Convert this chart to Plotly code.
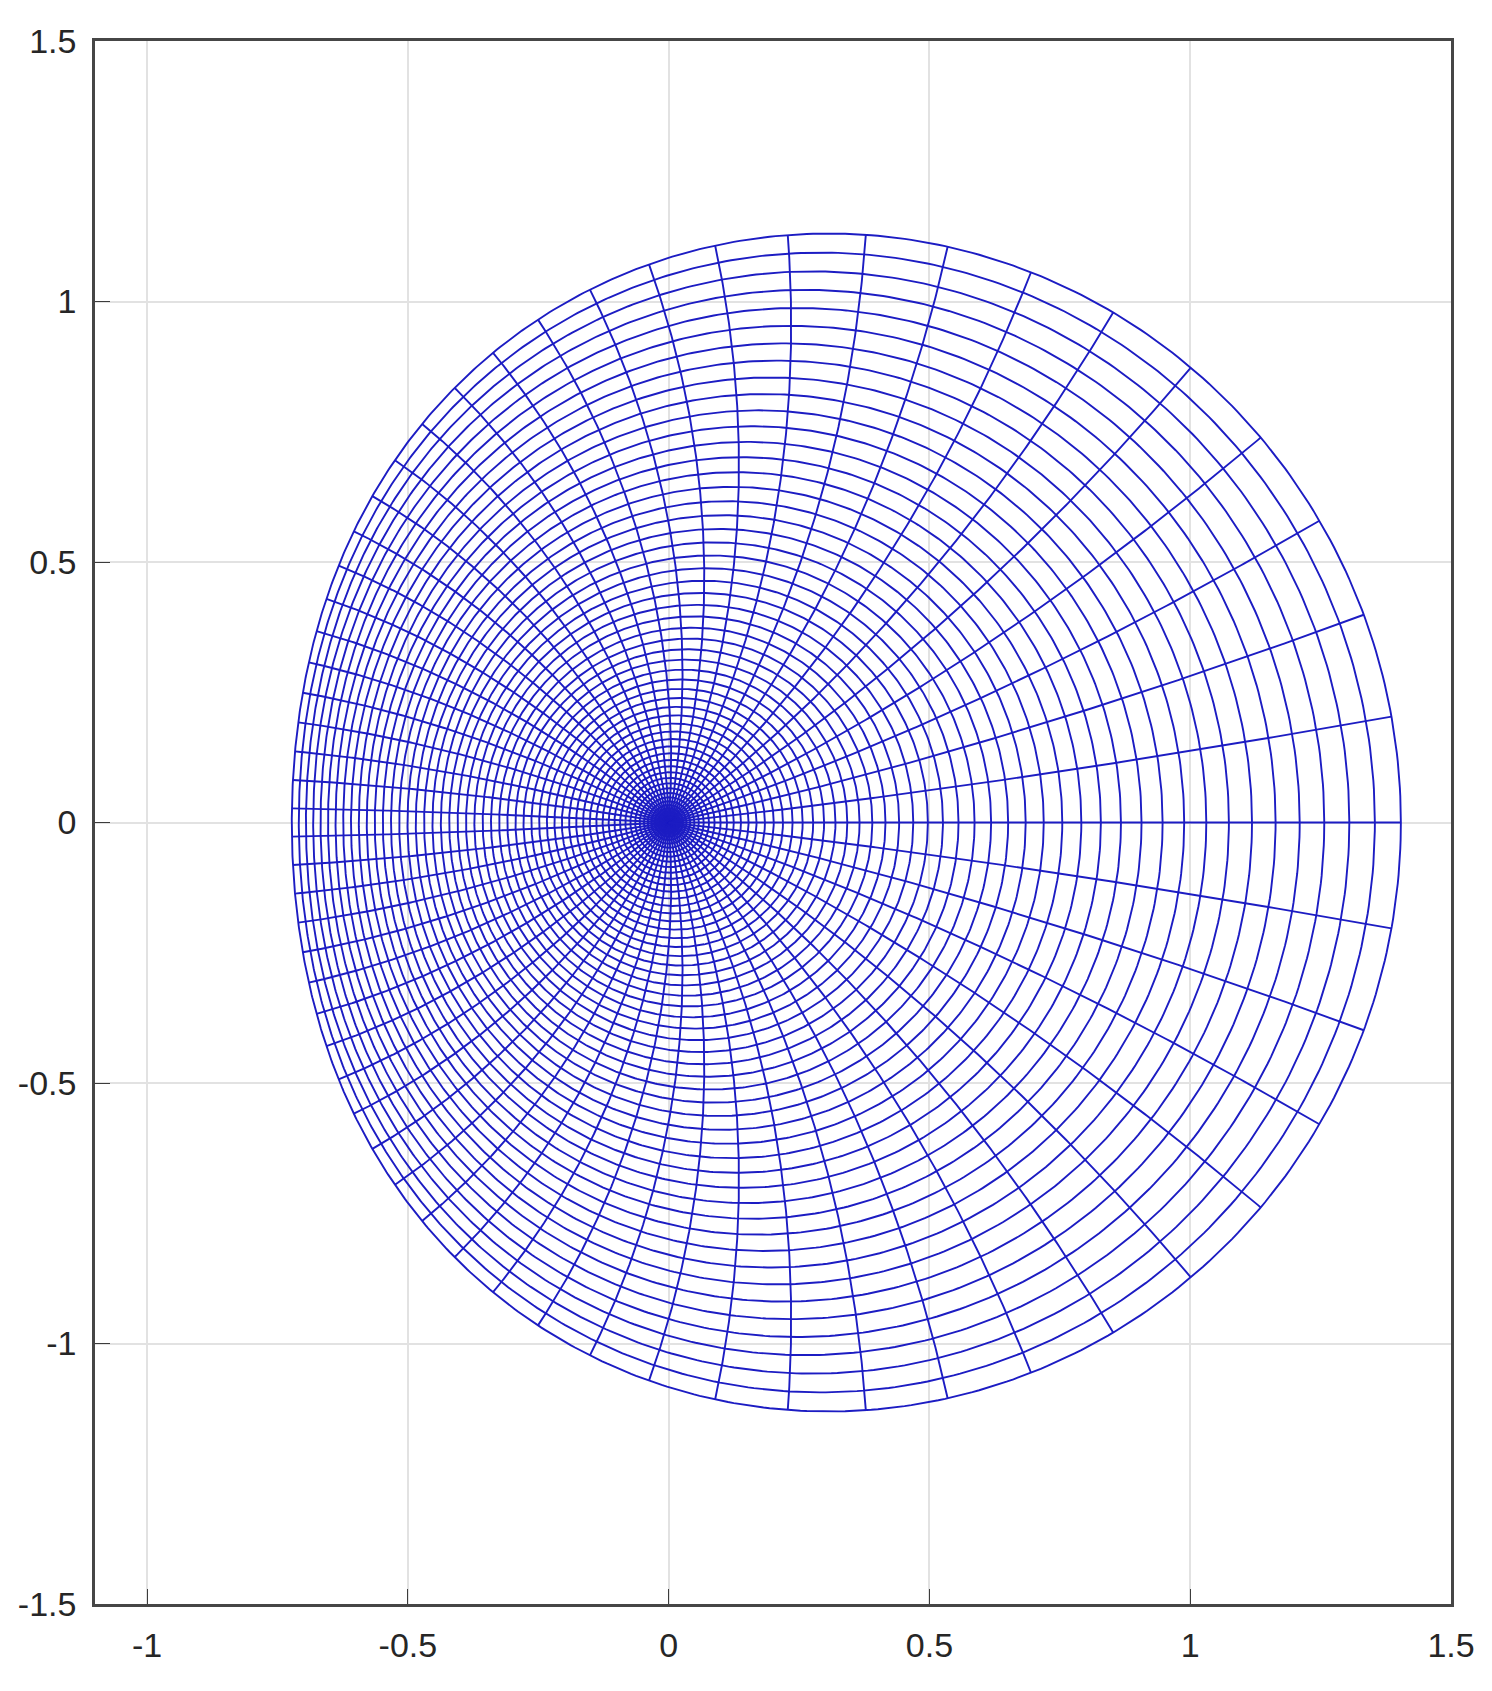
import numpy as np
import plotly.graph_objects as go

# ---- values ----
# radii of the ring curves in the source disk (dense near the centre)
ring_radii = [0.000343, 0.001370, 0.003083, 0.005478, 0.008555, 0.012312, 0.016745,
              0.021852, 0.027630, 0.034074, 0.041180, 0.048943, 0.057359, 0.066420,
              0.076120, 0.086455, 0.097415, 0.108993, 0.121183, 0.133975, 0.147360,
              0.161329, 0.175874, 0.190983, 0.206647, 0.222854, 0.239594, 0.256855,
              0.274626, 0.292893, 0.311645, 0.330869, 0.350552, 0.370680, 0.391239,
              0.412215, 0.433594, 0.455361, 0.477501, 0.500000, 0.522841, 0.546010,
              0.569489, 0.593263, 0.617317, 0.641632, 0.666193, 0.690983, 0.715985,
              0.741181, 0.766555, 0.792088, 0.817764, 0.843566, 0.869474, 0.895472,
              0.921541, 0.947664, 0.973823, 1.000000]
# directions of the spoke curves in the source disk (degrees)
ray_angles_deg = [0.0, 6.1017, 12.2034, 18.3051, 24.4068, 30.5085, 36.6102, 42.7119,
                  48.8136, 54.9153, 61.0169, 67.1186, 73.2203, 79.3220, 85.4237, 91.5254,
                  97.6271, 103.7288, 109.8305, 115.9322, 122.0339, 128.1356, 134.2373,
                  140.3390, 146.4407, 152.5424, 158.6441, 164.7458, 170.8475, 176.9492,
                  183.0508, 189.1525, 195.2542, 201.3559, 207.4576, 213.5593, 219.6610,
                  225.7627, 231.8644, 237.9661, 244.0678, 250.1695, 256.2712, 262.3729,
                  268.4746, 274.5763, 280.6780, 286.7797, 292.8814, 298.9831, 305.0847,
                  311.1864, 317.2881, 323.3898, 329.4915, 335.5932, 341.6949, 347.7966,
                  353.8983]
# mapping w = s * (exp(b z) - 1) / b
map_b = 0.664
map_s = 0.989
x_ticks = [-1, -0.5, 0, 0.5, 1, 1.5]
y_ticks = [-1.5, -1, -0.5, 0, 0.5, 1, 1.5]


def fmap(z):
    return map_s * (np.exp(map_b * z) - 1) / map_b


line_col = "rgb(28,28,195)"
theta = np.linspace(0, 2 * np.pi, 721)
rx, ry = [], []
for r in ring_radii:
    w = fmap(r * np.exp(1j * theta))
    rx += list(w.real) + [None]
    ry += list(w.imag) + [None]

tx, ty = [], []
rr = np.linspace(0, 1, 241)
for a in ray_angles_deg:
    w = fmap(rr * np.exp(1j * np.deg2rad(a)))
    tx += list(w.real) + [None]
    ty += list(w.imag) + [None]

fig = go.Figure()
fig.add_trace(go.Scatter(x=rx, y=ry, mode="lines", line=dict(color=line_col, width=1.9),
                         hoverinfo="skip", showlegend=False))
fig.add_trace(go.Scatter(x=tx, y=ty, mode="lines", line=dict(color=line_col, width=1.9),
                         hoverinfo="skip", showlegend=False))

axis_common = dict(showgrid=True, gridcolor="rgb(226,226,226)", gridwidth=1.5,
                   zeroline=False, showline=True, linecolor="rgb(70,70,70)", linewidth=2.5,
                   mirror=True, ticks="inside", ticklen=15, tickwidth=1.2, tickcolor="rgb(60,60,60)",
                   automargin=False, ticklabelstandoff=9,
                   tickfont=dict(family="Liberation Sans, Arial", size=34, color="rgb(38,38,38)"))

fig.update_layout(
    width=1492, height=1691,
    margin=dict(l=95, r=41, t=41, b=87),
    paper_bgcolor="white", plot_bgcolor="white",
    xaxis=dict(range=[-1.1, 1.5], tickvals=x_ticks, ticktext=[str(v) for v in x_ticks], **axis_common),
    yaxis=dict(range=[-1.5, 1.5], tickvals=y_ticks, ticktext=[str(v) for v in y_ticks], **axis_common),
)
fig.write_html("out.html", config={"displayModeBar": False},
               post_script="document.body.style.margin='0';")
